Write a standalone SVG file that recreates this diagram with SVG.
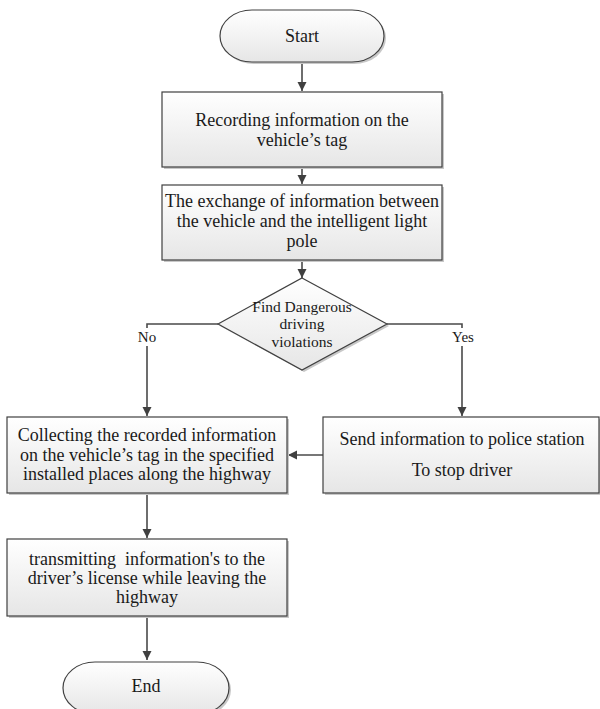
<svg xmlns="http://www.w3.org/2000/svg" width="600" height="709" viewBox="0 0 600 709">
<defs>
<linearGradient id="g" x1="0" y1="0" x2="0" y2="1">
<stop offset="0" stop-color="#ffffff"/>
<stop offset="1" stop-color="#e6e6e6"/>
</linearGradient>
<marker id="ah" markerWidth="10" markerHeight="10" refX="9" refY="5" orient="auto" markerUnits="userSpaceOnUse">
<path d="M0,0.5 L9,5 L0,9.5 Z" fill="#404040"/>
</marker>
</defs>
<style>
.shape{fill:url(#g);stroke:#404040;stroke-width:1.2}
.shadow{fill:#c8c8c8}
.t{font-family:"Liberation Serif","Times New Roman",serif;font-size:18px;fill:#1a1a1a;text-anchor:middle}
.d{font-family:"Liberation Serif","Times New Roman",serif;font-size:15.5px;fill:#1a1a1a;text-anchor:middle}
.c{fill:none;stroke:#4a4a4a;stroke-width:1.6}
.lbl{font-family:"Liberation Serif","Times New Roman",serif;font-size:15px;fill:#1a1a1a;text-anchor:middle}
</style>
<rect width="600" height="709" fill="#ffffff"/>

<g id="connectors">
<line class="c" x1="302" y1="62" x2="302" y2="91" marker-end="url(#ah)"/>
<line class="c" x1="302" y1="168" x2="302" y2="184" marker-end="url(#ah)"/>
<line class="c" x1="302" y1="261" x2="302" y2="278" marker-end="url(#ah)"/>
<polyline class="c" points="218,324 147,324 147,416" marker-end="url(#ah)"/>
<polyline class="c" points="387,324 462,324 462,416" marker-end="url(#ah)"/>
<line class="c" x1="323" y1="455" x2="288" y2="455" marker-end="url(#ah)"/>
<line class="c" x1="147" y1="494" x2="147" y2="538" marker-end="url(#ah)"/>
<line class="c" x1="147" y1="617" x2="147" y2="660" marker-end="url(#ah)"/>
<rect x="134" y="328" width="26" height="18" fill="#ffffff"/>
<text class="lbl" x="147" y="342">No</text>
<rect x="447" y="328" width="32" height="18" fill="#ffffff"/>
<text class="lbl" x="463" y="342">Yes</text>
</g>

<g id="start">
<rect class="shadow" x="222" y="12" width="164" height="52" rx="32" ry="26"/>
<rect class="shape" x="220" y="10" width="164" height="52" rx="32" ry="26"/>
<text class="t" x="302" y="42">Start</text>
</g>

<g id="record">
<rect class="shadow" x="164" y="94" width="280" height="75"/>
<rect class="shape" x="162" y="92" width="280" height="75"/>
<text class="t" x="302" y="126">Recording information on the</text>
<text class="t" x="302" y="146">vehicle’s tag</text>
</g>

<g id="exchange">
<rect class="shadow" x="164" y="187" width="280" height="75"/>
<rect class="shape" x="162" y="185" width="280" height="75"/>
<text class="t" x="302" y="207">The exchange of information between</text>
<text class="t" x="302" y="227">the vehicle and the intelligent light</text>
<text class="t" x="302" y="247">pole</text>
</g>

<g id="decision">
<polygon class="shadow" points="304,280 389,326 304,372 220,326"/>
<polygon class="shape" points="302,278 387,324 302,370 218,324"/>
<text class="d" x="302" y="312">Find Dangerous</text>
<text class="d" x="302" y="329">driving</text>
<text class="d" x="302" y="347">violations</text>
</g>

<g id="collect">
<rect class="shadow" x="9" y="419" width="280" height="76"/>
<rect class="shape" x="7" y="417" width="280" height="76"/>
<text class="t" x="147" y="441">Collecting the recorded information</text>
<text class="t" x="147" y="461">on the vehicle’s tag in the specified</text>
<text class="t" x="147" y="480">installed places along the highway</text>
</g>

<g id="police">
<rect class="shadow" x="325" y="419" width="276" height="76"/>
<rect class="shape" x="323" y="417" width="276" height="76"/>
<text class="t" x="462" y="445">Send information to police station</text>
<text class="t" x="462" y="476">To stop driver</text>
</g>

<g id="transmit">
<rect class="shadow" x="9" y="541" width="280" height="77"/>
<rect class="shape" x="7" y="539" width="280" height="77"/>
<text class="t" x="147" y="565" xml:space="preserve">transmitting  information's to the</text>
<text class="t" x="147" y="584">driver’s license while leaving the</text>
<text class="t" x="147" y="603">highway</text>
</g>

<g id="end">
<rect class="shadow" x="65" y="664" width="166" height="52" rx="32" ry="26"/>
<rect class="shape" x="63" y="662" width="166" height="52" rx="32" ry="26"/>
<text class="t" x="146" y="692">End</text>
</g>
</svg>
